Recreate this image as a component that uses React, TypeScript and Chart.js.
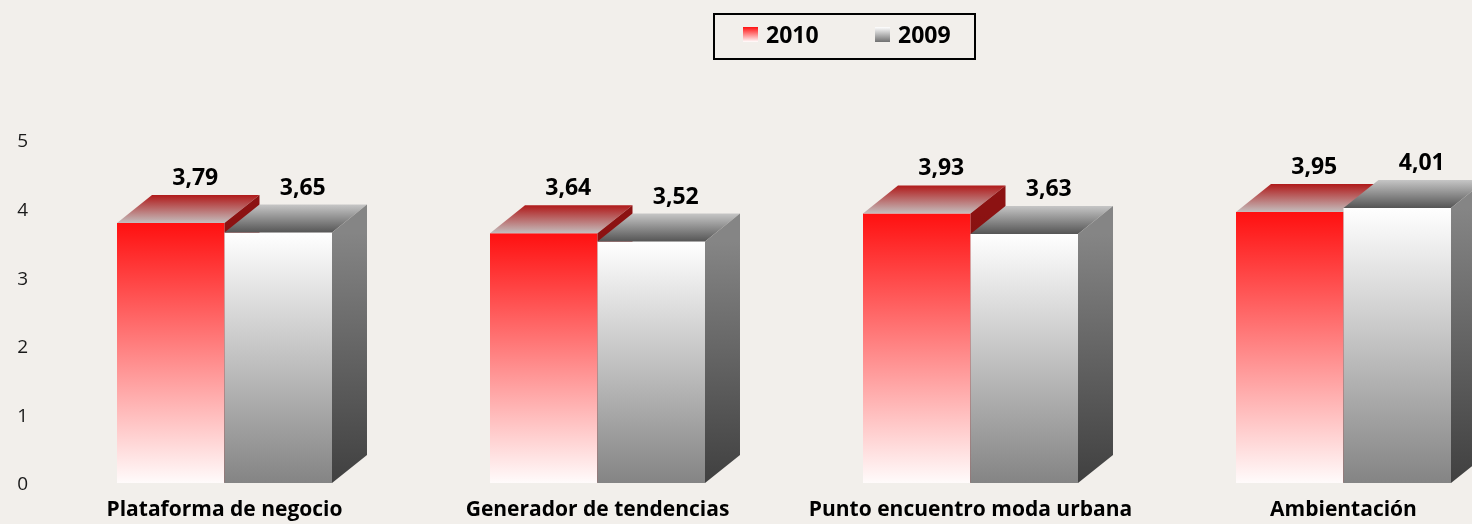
import React, { useEffect, useRef } from "react";
import { Chart, registerables } from "chart.js";

Chart.register(...registerables);

const categories = [
  "Plataforma de negocio",
  "Generador de tendencias",
  "Punto encuentro moda urbana",
  "Ambientación",
];
const values2010 = [3.79, 3.64, 3.93, 3.95];
const values2009 = [3.65, 3.52, 3.63, 4.01];
const seriesNames = ["2010", "2009"];
const yTicks = [0, 1, 2, 3, 4, 5];

const DX = 35;
const DY = -28;
const FONT = "'Open Sans', Lato, sans-serif";
const BG = "#f2efeb";

function fmt(v: number) {
  return v.toFixed(2).replace(".", ",");
}

function frontFill(kind: "red" | "gray") {
  return (c: any) => {
    const chart = c.chart;
    if (!chart.chartArea || !c.parsed) return kind === "red" ? "#ff1414" : "#ffffff";
    const ys = chart.scales.y;
    const yTop = ys.getPixelForValue(c.parsed.y);
    const yBase = ys.getPixelForValue(0);
    const g = chart.ctx.createLinearGradient(0, yTop, 0, yBase);
    if (kind === "red") {
      g.addColorStop(0, "#ff1010");
      g.addColorStop(1, "#fffbfb");
    } else {
      g.addColorStop(0, "#ffffff");
      g.addColorStop(1, "#848484");
    }
    return g;
  };
}

function drawFaces(ctx: CanvasRenderingContext2D, el: any, kind: "red" | "gray") {
  const { x, y, base, width } = el.getProps(["x", "y", "base", "width"], true);
  const l = x - width / 2;
  const r = x + width / 2;
  // top face
  let g = ctx.createLinearGradient(0, y, 0, y + DY);
  if (kind === "red") {
    g.addColorStop(0, "#c4bebe");
    g.addColorStop(1, "#b01a1a");
  } else {
    g.addColorStop(0, "#555555");
    g.addColorStop(1, "#c6c6c6");
  }
  ctx.beginPath();
  ctx.moveTo(l, y);
  ctx.lineTo(r, y);
  ctx.lineTo(r + DX, y + DY);
  ctx.lineTo(l + DX, y + DY);
  ctx.closePath();
  ctx.fillStyle = g;
  ctx.fill();
  // side face
  g = ctx.createLinearGradient(0, y, 0, base);
  if (kind === "red") {
    g.addColorStop(0, "#8c1212");
    g.addColorStop(1, "#5a0808");
  } else {
    g.addColorStop(0, "#858585");
    g.addColorStop(1, "#404040");
  }
  ctx.beginPath();
  ctx.moveTo(r, y);
  ctx.lineTo(r + DX, y + DY);
  ctx.lineTo(r + DX, base + DY);
  ctx.lineTo(r, base);
  ctx.closePath();
  ctx.fillStyle = g;
  ctx.fill();
}

const bar3d = {
  id: "bar3d",
  afterDatasetsDraw(chart: any) {
    const ctx = chart.ctx;
    const m0 = chart.getDatasetMeta(0);
    const m1 = chart.getDatasetMeta(1);
    ctx.save();
    for (let i = 0; i < categories.length; i++) {
      drawFaces(ctx, m0.data[i], "red");
      m1.data[i].draw(ctx);
      drawFaces(ctx, m1.data[i], "gray");
    }
    // value labels
    ctx.fillStyle = "#000";
    ctx.font = `bold 23px ${FONT}`;
    ctx.textAlign = "center";
    ctx.textBaseline = "alphabetic";
    [m0, m1].forEach((m: any, di: number) => {
      const vals = di === 0 ? values2010 : values2009;
      m.data.forEach((el: any, i: number) => {
        const { x, y } = el.getProps(["x", "y"], true);
        ctx.fillText(fmt(vals[i]), x + DX / 2 + 7, y + DY - 10);
      });
    });
    ctx.restore();
  },
  afterDraw(chart: any) {
    const ctx = chart.ctx;
    ctx.save();
    ctx.strokeStyle = "#000";
    ctx.lineWidth = 2;
    ctx.strokeRect(714, 14, 261, 45);
    const sw = (x: number, c1: string, c2: string) => {
      const g = ctx.createLinearGradient(0, 27, 0, 42);
      g.addColorStop(0, c1);
      g.addColorStop(1, c2);
      ctx.fillStyle = g;
      ctx.fillRect(x, 27, 15, 15);
    };
    sw(743, "#ff1010", "#ffffff");
    sw(875, "#ffffff", "#707070");
    ctx.fillStyle = "#000";
    ctx.font = `bold 23px ${FONT}`;
    ctx.textAlign = "left";
    ctx.textBaseline = "alphabetic";
    ctx.fillText(seriesNames[0], 766, 43);
    ctx.fillText(seriesNames[1], 898, 43);
    ctx.restore();
  },
};

export default function App() {
  const ref = useRef<HTMLCanvasElement | null>(null);
  useEffect(() => {
    if (!ref.current) return;
    const chart = new Chart(ref.current, {
      type: "bar",
      data: {
        labels: categories,
        datasets: [
          {
            label: seriesNames[0],
            data: values2010,
            backgroundColor: frontFill("red") as any,
            borderWidth: 0,
            categoryPercentage: 0.5764,
            barPercentage: 1,
          },
          {
            label: seriesNames[1],
            data: values2009,
            backgroundColor: frontFill("gray") as any,
            borderWidth: 0,
            categoryPercentage: 0.5764,
            barPercentage: 1,
          },
        ],
      },
      options: {
        responsive: false,
        animation: false,
        layout: { padding: { top: 140, right: 10, left: 0, bottom: 0 } },
        plugins: { legend: { display: false }, tooltip: { enabled: false } },
        scales: {
          x: {
            grid: { display: false, drawTicks: false },
            border: { display: false },
            ticks: {
              font: { family: FONT, size: 21, weight: "bold" },
              color: "#000",
              padding: 14,
              maxRotation: 0,
              autoSkip: false,
            },
            afterFit: (s: any) => {
              s.height = 41;
            },
          },
          y: {
            min: 0,
            max: 5,
            grid: { display: false, drawTicks: false },
            border: { display: false },
            ticks: {
              font: { family: FONT, size: 19 },
              color: "#1a1a1a",
              padding: 10,
              labelOffset: 2,
            },
            afterBuildTicks: (s: any) => {
              s.ticks = yTicks.map((v) => ({ value: v }));
            },
            afterFit: (s: any) => {
              s.width = 38;
            },
          },
        },
      } as any,
      plugins: [bar3d],
    });
    return () => chart.destroy();
  }, []);
  return (
    <div
      style={{
        position: "fixed",
        left: 0,
        top: 0,
        width: 1472,
        height: 524,
        overflow: "hidden",
        background: BG,
      }}
    >
      <canvas ref={ref} width={1540} height={524} style={{ display: "block" }} />
    </div>
  );
}
